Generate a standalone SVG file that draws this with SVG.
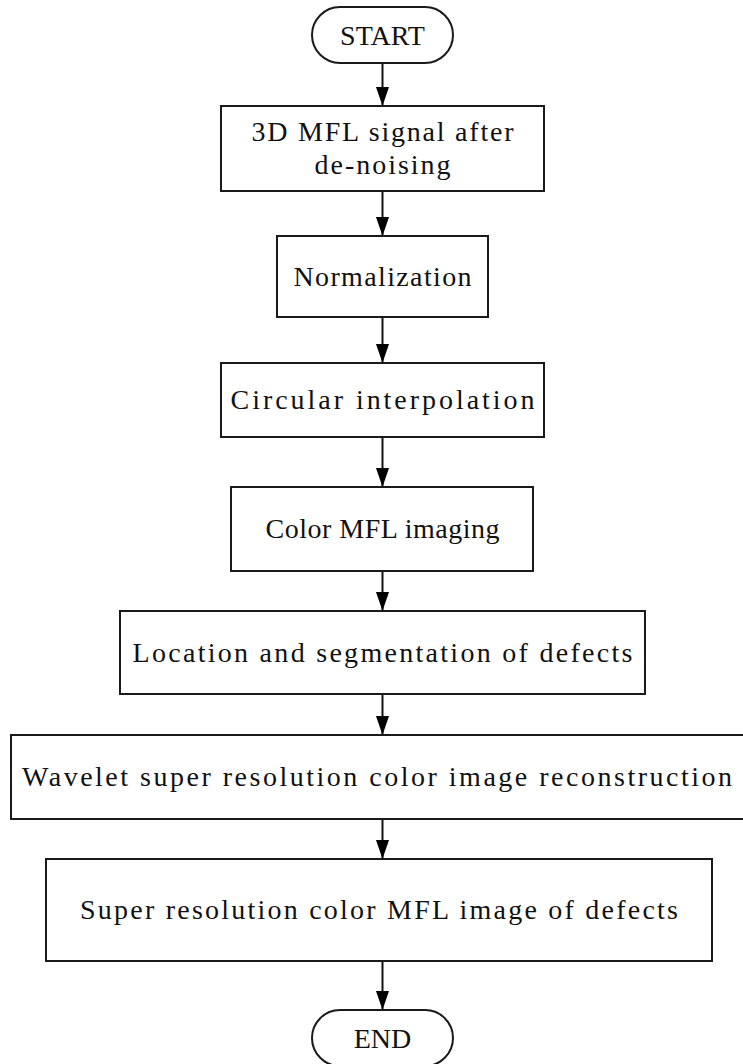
<svg xmlns="http://www.w3.org/2000/svg" width="743" height="1064" viewBox="0 0 743 1064">
<style>
.box{fill:#fff;stroke:#1a1a1a;stroke-width:2}
.t{font-family:"Liberation Serif",serif;font-size:28px;fill:#111;text-anchor:middle}
.c{stroke:#111;stroke-width:2;fill:none;marker-end:url(#ah)}
</style>
<defs>
<marker id="ah" viewBox="0 0 19 13" refX="19" refY="6.5" markerWidth="19" markerHeight="13" markerUnits="userSpaceOnUse" orient="auto">
<path d="M0,0 L19,6.5 L0,13 z" fill="#000"/>
</marker>
</defs>
<rect width="743" height="1064" fill="#fff"/>
<g id="connectors">
<line class="c" x1="382.5" y1="63" x2="382.5" y2="106"/>
<line class="c" x1="382.5" y1="191" x2="382.5" y2="236"/>
<line class="c" x1="382.5" y1="317" x2="382.5" y2="363"/>
<line class="c" x1="382.5" y1="437" x2="382.5" y2="487"/>
<line class="c" x1="382.5" y1="571" x2="382.5" y2="611"/>
<line class="c" x1="382.5" y1="694" x2="382.5" y2="735"/>
<line class="c" x1="382.5" y1="819" x2="382.5" y2="859"/>
<line class="c" x1="382.5" y1="961" x2="382.5" y2="1010"/>
</g>
<g id="start">
<rect class="box" x="312" y="7" width="141" height="56" rx="28"/>
<text class="t" x="382.5" y="45">START</text>
</g>
<g id="n1">
<rect class="box" x="221" y="106" width="323" height="85"/>
<text class="t" x="382.5" y="141" textLength="262" lengthAdjust="spacing">3D MFL signal after</text>
<text class="t" x="382.5" y="174" textLength="136" lengthAdjust="spacing">de-noising</text>
</g>
<g id="n2">
<rect class="box" x="277" y="236" width="211" height="81"/>
<text class="t" x="382.5" y="286" textLength="178" lengthAdjust="spacing">Normalization</text>
</g>
<g id="n3">
<rect class="box" x="221" y="363" width="323" height="74"/>
<text class="t" x="382.5" y="409" textLength="304" lengthAdjust="spacing">Circular interpolation</text>
</g>
<g id="n4">
<rect class="box" x="231" y="487" width="302" height="84"/>
<text class="t" x="382.5" y="538" textLength="234" lengthAdjust="spacing">Color MFL imaging</text>
</g>
<g id="n5">
<rect class="box" x="120" y="611" width="525" height="83"/>
<text class="t" x="382.5" y="662" textLength="500" lengthAdjust="spacing">Location and segmentation of defects</text>
</g>
<g id="n6">
<rect class="box" x="11" y="735" width="745" height="84"/>
<text class="t" x="377" y="786" textLength="710" lengthAdjust="spacing">Wavelet super resolution color image reconstruction</text>
</g>
<g id="n7">
<rect class="box" x="46" y="859" width="666" height="102"/>
<text class="t" x="379" y="919" textLength="598" lengthAdjust="spacing">Super resolution color MFL image of defects</text>
</g>
<g id="end">
<rect class="box" x="312" y="1010" width="141" height="56" rx="28"/>
<text class="t" x="382.5" y="1048">END</text>
</g>
</svg>
